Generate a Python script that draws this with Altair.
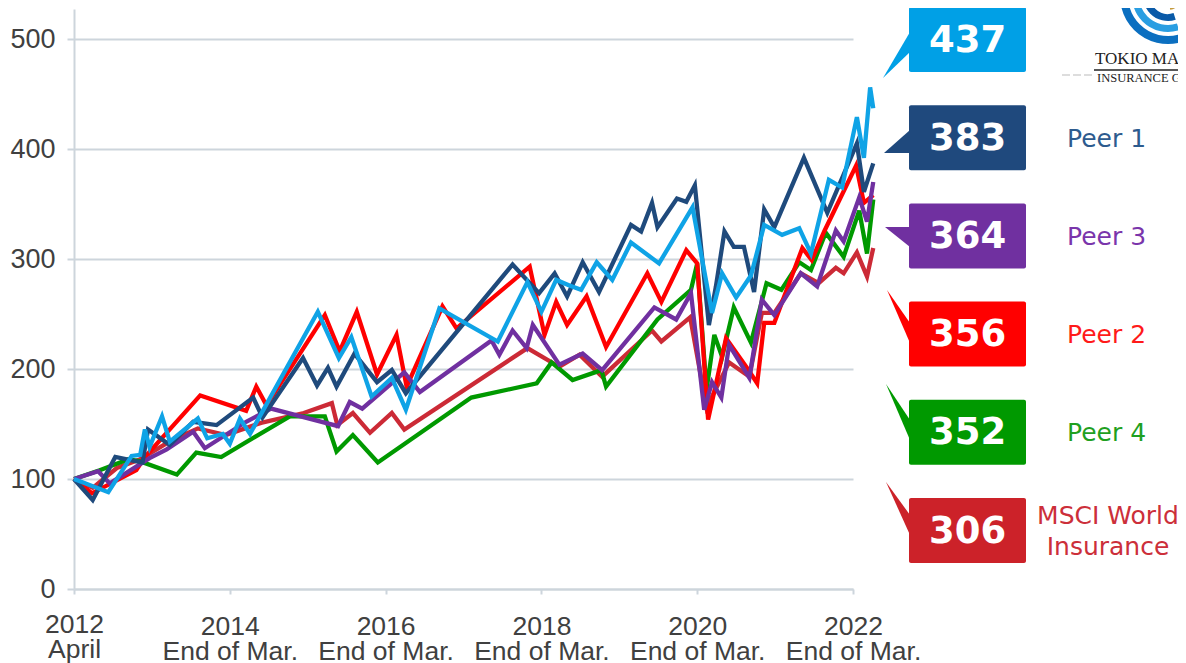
import math
import altair as alt
import pandas as pd

# ---------------- data ----------------
# time is in decimal years (2012.25 = April 2012, 2022.25 = end of March 2022)
tm_t = [2012.25, 2012.69, 2012.99, 2013.10, 2013.16, 2013.22, 2013.38, 2013.48, 2013.84, 2013.96,
        2014.16, 2014.25, 2014.38, 2014.51, 2015.38, 2015.65, 2015.81, 2016.07, 2016.33, 2016.51,
        2016.94, 2017.69, 2018.07, 2018.25, 2018.44, 2018.61, 2018.76, 2018.96, 2019.16, 2019.40,
        2019.76, 2020.19, 2020.44, 2020.57, 2020.75, 2020.94, 2021.11, 2021.34, 2021.56, 2021.71,
        2021.94, 2022.11, 2022.30, 2022.39, 2022.47, 2022.51]
tm_v = [100, 88, 121, 122, 145, 129, 157, 134, 155, 137,
        141, 132, 155, 141, 252, 210, 229, 175, 192, 163,
        255, 225, 279, 252, 281, 276, 272, 297, 281, 315,
        296, 347, 251, 287, 265, 285, 331, 322, 328, 305,
        372, 365, 429, 392, 456, 437]

peer1_t = [2012.25, 2012.49, 2012.78, 2012.99, 2013.13, 2013.20, 2013.48, 2013.78, 2014.08, 2014.55,
           2014.67, 2015.19, 2015.37, 2015.51, 2015.62, 2015.85, 2016.14, 2016.33, 2016.51, 2017.88,
           2018.22, 2018.42, 2018.58, 2018.78, 2018.99, 2019.40, 2019.53, 2019.67, 2019.74, 2019.99,
           2020.11, 2020.22, 2020.40, 2020.49, 2020.60, 2020.72, 2020.85, 2020.98, 2021.11, 2021.24,
           2021.62, 2021.92, 2022.30, 2022.39, 2022.51]
peer1_v = [100, 81, 120, 117, 115, 145, 131, 152, 149, 174,
           156, 210, 185, 201, 184, 214, 188, 199, 178, 295,
           269, 287, 266, 297, 270, 331, 325, 351, 329, 355,
           352, 367, 240, 275, 325, 311, 311, 270, 345, 329,
           392, 342, 405, 361, 387]

peer2_t = [2012.25, 2012.48, 2013.05, 2013.16, 2013.87, 2014.46, 2014.59, 2014.72, 2015.47, 2015.66,
           2015.88, 2016.14, 2016.39, 2016.52, 2016.98, 2017.16, 2018.10, 2018.29, 2018.44, 2018.58,
           2018.83, 2019.08, 2019.61, 2019.79, 2020.11, 2020.25, 2020.39, 2020.62, 2020.89, 2021.02,
           2021.11, 2021.24, 2021.60, 2021.72, 2021.88, 2022.29, 2022.39, 2022.51]
peer2_v = [100, 87, 108, 120, 176, 162, 184, 167, 249, 216,
           252, 195, 231, 184, 257, 237, 293, 231, 261, 240,
           266, 220, 287, 261, 308, 296, 154, 228, 201, 187,
           242, 242, 310, 299, 325, 385, 351, 358]

peer3_t = [2012.25, 2012.56, 2012.71, 2013.22, 2013.44, 2013.78, 2013.93, 2014.46, 2014.78, 2015.64,
           2015.79, 2015.95, 2016.49, 2016.69, 2017.61, 2017.71, 2017.88, 2018.06, 2018.14, 2018.48,
           2018.78, 2019.03, 2019.70, 2019.98, 2020.17, 2020.34, 2020.44, 2020.56, 2020.66, 2020.92,
           2021.08, 2021.24, 2021.58, 2021.79, 2022.03, 2022.13, 2022.33, 2022.43, 2022.51]
peer3_v = [100, 107, 96, 119, 127, 143, 128, 152, 164, 148,
           170, 164, 197, 179, 226, 213, 235, 219, 240, 204,
           214, 199, 256, 245, 269, 163, 188, 174, 222, 192,
           263, 249, 287, 275, 326, 316, 356, 334, 370]

peer4_t = [2012.25, 2012.58, 2012.95, 2013.10, 2013.57, 2013.82, 2014.14, 2015.02, 2015.47, 2015.62,
           2015.83, 2016.15, 2017.35, 2018.19, 2018.38, 2018.65, 2019.02, 2019.08, 2019.74, 2020.17,
           2020.25, 2020.37, 2020.47, 2020.57, 2020.72, 2020.94, 2021.14, 2021.33, 2021.56, 2021.71,
           2021.90, 2022.13, 2022.33, 2022.43, 2022.51]
peer4_v = [100, 108, 118, 116, 104, 124, 120, 157, 157, 125,
           140, 115, 174, 187, 206, 190, 199, 184, 245, 272,
           296, 181, 231, 211, 256, 224, 278, 272, 297, 290,
           324, 302, 344, 305, 354]

msci_t = [2012.25, 2012.49, 2012.80, 2013.10, 2013.50, 2013.84, 2014.20, 2014.65, 2015.20, 2015.56,
          2015.63, 2015.83, 2016.05, 2016.33, 2016.49, 2018.07, 2018.48, 2018.74, 2019.03, 2019.67,
          2019.79, 2020.16, 2020.37, 2020.66, 2020.92, 2021.08, 2021.24, 2021.58, 2021.81, 2022.03,
          2022.13, 2022.30, 2022.43, 2022.51]
msci_v = [100, 92, 110, 118, 135, 146, 140, 151, 160, 169,
          149, 160, 142, 160, 145, 219, 202, 213, 193, 235,
          225, 247, 165, 206, 193, 251, 251, 287, 278, 292,
          287, 306, 284, 310]

# callouts (top to bottom)
callout_series = ["Tokio Marine", "Peer 1", "Peer 3", "Peer 2", "Peer 4", "MSCI World Insurance"]
callout_values = ["437", "383", "364", "356", "352", "306"]
callout_names = ["", "Peer 1", "Peer 3", "Peer 2", "Peer 4", ""]
msci_name_lines = ["MSCI World", "Insurance"]

# axis ticks
x_tick_values = [2012.25, 2014.25, 2016.25, 2018.25, 2020.25, 2022.25]
x_tick_top = ["2012", "2014", "2016", "2018", "2020", "2022"]
x_tick_bottom = ["April", "End of Mar.", "End of Mar.", "End of Mar.", "End of Mar.", "End of Mar."]
y_tick_values = [0, 100, 200, 300, 400, 500]

logo_lines = ["TOKIO MARINE", "INSURANCE GROUP"]

# ---------------- styles / layout ----------------
LINE_COLOR = {
    "Tokio Marine": "#0fa3e6",
    "Peer 1": "#1f4a7c",
    "Peer 3": "#7030a0",
    "Peer 2": "#ff0000",
    "Peer 4": "#009900",
    "MSCI World Insurance": "#cc2a36",
}
BOX_COLOR = {
    "Tokio Marine": "#00a0e6",
    "Peer 1": "#1f497d",
    "Peer 3": "#7030a0",
    "Peer 2": "#ff0000",
    "Peer 4": "#009900",
    "MSCI World Insurance": "#cc2229",
}
TEXT_COLOR = {
    "Peer 1": "#2d5b8e",
    "Peer 3": "#7a35ab",
    "Peer 2": "#ff1a1a",
    "Peer 4": "#1fa01f",
    "MSCI World Insurance": "#cc2f3a",
}
GRID = "#cdd5dc"
LABEL = "#404040"

PLOT_W, PLOT_H = 779, 580
OX, OY = 74, 9  # page position of plot origin (8px page margin included)
PAD = {"left": OX - 8, "top": OY - 8, "right": 1170 - (OX - 8) - PLOT_W, "bottom": 74}

series_data = {
    "Tokio Marine": (tm_t, tm_v),
    "Peer 1": (peer1_t, peer1_v),
    "Peer 3": (peer3_t, peer3_v),
    "Peer 2": (peer2_t, peer2_v),
    "Peer 4": (peer4_t, peer4_v),
    "MSCI World Insurance": (msci_t, msci_v),
}
draw_order = ["MSCI World Insurance", "Peer 4", "Peer 2", "Peer 3", "Peer 1", "Tokio Marine"]

# x-axis label expression (two-line labels)
label_expr = "''"
for v, a, b in reversed(list(zip(x_tick_values, x_tick_top, x_tick_bottom))):
    label_expr = f"abs(datum.value - {v}) < 0.01 ? ['{a}', '{b}'] : ({label_expr})"

x_enc = alt.X("t:Q",
              scale=alt.Scale(domain=[2012.25, 2022.25], nice=False, zero=False),
              axis=alt.Axis(values=x_tick_values, labelExpr=label_expr, title=None, grid=False,
                            labelFlush=False, labelOverlap=False, tickSize=5,
                            labelPadding={"condition": {"test": "datum.value < 2013", "value": 17},
                                          "value": 19},
                            labelFontSize=26.5, labelLineHeight=25, labelBaseline="top"))
y_enc = alt.Y("v:Q",
              scale=alt.Scale(domain=[0, PLOT_H / 1.1], nice=False),
              axis=alt.Axis(values=y_tick_values, title=None, grid=True, tickSize=7,
                            labelPadding=12, labelFlush=False, labelFontSize=27))

line_layers = []
for name in draw_order:
    t, v = series_data[name]
    df = pd.DataFrame({"t": t, "v": v})
    line_layers.append(
        alt.Chart(df).mark_line(color=LINE_COLOR[name], strokeWidth=4.3, strokeJoin="miter")
        .encode(x=x_enc, y=y_enc)
    )
lines = alt.layer(*line_layers)

# ---------------- callouts in pixel space ----------------
BOX_X0, BOX_X1, BOX_H, BOX_TOP0, BOX_STEP = 909, 1026, 65, 7, 98.2
TIPS = [(883, 78), (884, 153), (885, 227), (887, 290), (886, 384), (886, 482)]
BASES = [(32, 52), (130, 153), (227, 247), (323, 343), (420, 440), (515, 535)]
NAME_X = 1067
MSCI_X, MSCI_Y = 1108, (516, 547)

box_rows, num_rows, ptr_rows, name_rows = [], [], [], []
for i, (s, val, nm) in enumerate(zip(callout_series, callout_values, callout_names)):
    top = BOX_TOP0 + BOX_STEP * i
    box_rows.append({"x0": BOX_X0 - OX, "x1": BOX_X1 - OX, "y0": top - OY, "y1": top + BOX_H - OY,
                     "c": BOX_COLOR[s]})
    num_rows.append({"x": (BOX_X0 + BOX_X1) / 2 - OX, "y": top + BOX_H / 2 + 1 - OY, "txt": val})
    tx, ty = TIPS[i]
    b0, b1 = BASES[i]
    ptr_rows.append({"k": i, "x": tx - OX, "y": ty - OY, "y2": ty - OY, "c": BOX_COLOR[s]})
    ptr_rows.append({"k": i, "x": BOX_X0 + 1 - OX, "y": b0 - OY, "y2": b1 - OY, "c": BOX_COLOR[s]})
    if nm:
        name_rows.append({"x": NAME_X - OX, "y": top + BOX_H / 2 + 1 - OY, "txt": nm, "c": TEXT_COLOR[s]})

msci_rows = [{"x": MSCI_X - OX, "y": yy - OY, "txt": tx, "c": TEXT_COLOR["MSCI World Insurance"]}
             for yy, tx in zip(MSCI_Y, msci_name_lines)]


def px(field):
    return alt.X(f"{field}:Q", scale=None, axis=None)


def py(field):
    return alt.Y(f"{field}:Q", scale=None, axis=None)


boxes = alt.Chart(pd.DataFrame(box_rows)).mark_rect(cornerRadius=2).encode(
    x=px("x0"), x2="x1", y=py("y0"), y2="y1",
    color=alt.Color("c:N", scale=None, legend=None))

pointers = alt.Chart(pd.DataFrame(ptr_rows)).mark_area().encode(
    x=px("x"), y=alt.Y("y:Q", scale=None, axis=None, stack=None), y2="y2",
    color=alt.Color("c:N", scale=None, legend=None), detail="k:N")

nums = alt.Chart(pd.DataFrame(num_rows)).mark_text(
    font="DejaVu Sans", fontWeight="bold", fontSize=37, color="white",
    align="center", baseline="middle").encode(x=px("x"), y=py("y"), text="txt:N")

names = alt.Chart(pd.DataFrame(name_rows)).mark_text(
    font="DejaVu Sans", fontSize=25, align="left", baseline="middle").encode(
    x=px("x"), y=py("y"), text="txt:N", color=alt.Color("c:N", scale=None, legend=None))

msci_names = alt.Chart(pd.DataFrame(msci_rows)).mark_text(
    font="DejaVu Sans", fontSize=25, align="center", baseline="middle").encode(
    x=px("x"), y=py("y"), text="txt:N", color=alt.Color("c:N", scale=None, legend=None))

# ---------------- logo (decoration, top right) ----------------
logo_df = pd.DataFrame({"x": [1095 - OX, 1097 - OX], "y": [64 - OY, 82 - OY],
                        "txt": logo_lines, "fs": [17, 12.5]})
logo_text = alt.Chart(logo_df).mark_text(
    font="Liberation Serif", align="left", baseline="alphabetic", color="#222222").encode(
    x=px("x"), y=py("y"), text="txt:N", size=alt.Size("fs:Q", scale=None, legend=None))
logo_rule = alt.Chart(pd.DataFrame({"x": [1094 - OX], "x2": [1190 - OX], "y": [70 - OY]})).mark_rule(
    color="#222222", strokeWidth=1.3).encode(x=px("x"), x2="x2", y=py("y"))
logo_dash = alt.Chart(pd.DataFrame({"x": [1062 - OX], "x2": [1094 - OX], "y": [75 - OY]})).mark_rule(
    color="#bbbbbb", strokeWidth=1, strokeDash=[8, 3]).encode(x=px("x"), x2="x2", y=py("y"))

SWIRL_C = (1168, -4)
swirl_bands = [(40, 48, "#0b6fc0"), (29, 36, "#2a9ee2"), (18, 25, "#0a5aa8")]
swirl_layers = []
one = pd.DataFrame({"a": [0]})
for r0, r1, col in swirl_bands:
    swirl_layers.append(
        alt.Chart(one).mark_arc(radius=r1, radius2=r0, theta=math.pi * 0.9, theta2=math.pi * 1.6,
                                color=col)
        .encode(x=alt.value(SWIRL_C[0] - OX), y=alt.value(SWIRL_C[1] - OY))
    )
swirl_layers.append(
    alt.Chart(one).mark_arc(radius=14, radius2=6, theta=math.pi * 0.45, theta2=math.pi * 0.95,
                            color="#c49a3c")
    .encode(x=alt.value(SWIRL_C[0] - OX), y=alt.value(SWIRL_C[1] - OY))
)

chart = alt.layer(lines, pointers, boxes, nums, names, msci_names, logo_text, logo_rule, logo_dash,
                  *swirl_layers).resolve_scale(
    x="independent", y="independent"
).properties(
    width=PLOT_W, height=PLOT_H,
    autosize=alt.AutoSizeParams(type="none"),
    padding=PAD,
    background="white",
).configure_view(stroke=None).configure_axis(
    domainColor=GRID, domainWidth=2, tickColor=GRID, tickWidth=2, gridColor=GRID, gridWidth=2,
    labelColor=LABEL, labelFont="Liberation Sans", labelFontSize=26,
)

chart.save("out.html", embed_options={"renderer": "svg", "actions": False})
